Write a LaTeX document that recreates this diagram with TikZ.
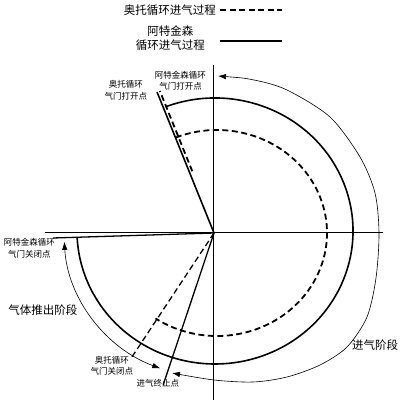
\documentclass[tikz,border=0pt]{standalone}
\usepackage{fontspec}
\usepackage{tikz}
\usetikzlibrary{positioning,calc,arrows.meta}
\newfontfamily\cjk{Noto Sans CJK SC}
\tikzset{
  axis/.style={line width=1pt},
  atkin/.style={line width=1.6pt},
  otto/.style={line width=1.8pt, dash pattern=on 6pt off 3.5pt},
  stage/.style={line width=0.6pt,
    {Latex[length=8pt,width=5.5pt]}-{Latex[length=8pt,width=5.5pt]}},
  small label/.style={font=\cjk\fontsize{8.5}{11.5}\selectfont,
    inner sep=0pt, align=center},
  big label/.style={font=\cjk\fontsize{11.5}{14}\selectfont,
    inner sep=0pt, align=center},
}

\begin{document}
\begin{tikzpicture}[x=1pt,y=1pt]
  \useasboundingbox (-214,-171) rectangle (186,233);

  % axes and valve timing lines
  \coordinate (O) at (0,0);
  \coordinate (axisTop) at (0,168);
  \coordinate (axisBottom) at (0,-167);
  \coordinate (axisLeft) at (-169,0);
  \coordinate (axisRight) at (169,0);
  \coordinate (openEnd) at (112:152);
  \coordinate (atkCloseEnd) at (-161,-5);
  \coordinate (ottoCloseEnd) at (-123.5:152);
  \coordinate (intakeEnd) at (-108.5:160);

  \draw[axis] (axisTop) -- (axisBottom);
  \draw[axis] (axisLeft) -- (axisRight);
  \draw[atkin] (O) -- (openEnd);
  \draw[otto] ([shift={(2.8,1.1)}]$(O)!0.43!(openEnd)$)
    -- ([shift={(2.8,1.1)}]openEnd);
  \draw[atkin, line width=1.3pt] (O) -- (atkCloseEnd);
  \draw[otto, line width=1.3pt] (O) -- (ottoCloseEnd);
  \draw[atkin, line width=1.3pt] (O) -- (intakeEnd);

  % intake curves
  \coordinate (atkArcStart) at ($(1,2)+(111:138 and 133)$);
  \coordinate (ottoArcStart) at ($(3,0)+(112:110 and 103)$);
  \draw[atkin] (atkArcStart)
    arc[start angle=111, end angle=-177, x radius=138, y radius=133];
  \draw[otto] (ottoArcStart)
    arc[start angle=112, end angle=-124, x radius=110, y radius=103];

  % stage arrows
  \draw[stage] plot[smooth] coordinates {(4,157) (40,153) (73,143)
    (116,116) (146,76) (161,40) (165,0) (162,-45) (153,-84) (133,-114)
    (106,-132) (73,-144) (39,-149) (0,-147) (-42,-140)};
  \coordinate (exhStart) at (-111:150 and 145);
  \draw[stage] (exhStart)
    arc[start angle=-111, end angle=-176.5, x radius=150, y radius=145];

  % legend
  \node (legOtto) [big label] at (-44,223) {奥托循环进气过程};
  \node (legAtkin) [big label] at (-43.5,195) {阿特金森\\循环进气过程};
  \coordinate (ottoSampleA) at (6,223);
  \coordinate (ottoSampleB) at (68,223);
  \coordinate (atkSampleA) at (6,192);
  \coordinate (atkSampleB) at (68,192);
  \draw[otto] (ottoSampleA) -- (ottoSampleB);
  \draw[atkin] (atkSampleA) -- (atkSampleB);

  % labels
  \node (ottoOpen) [small label] at (-88,142.5) {奥托循环\\气门打开点};
  \node (atkOpen) [small label] at (-33.5,152) {阿特金森循环\\气门打开点};
  \node (atkClose) [small label] at (-184.5,-15) {阿特金森循环\\气门关闭点};
  \node (ottoClose) [small label] at (-102,-133) {奥托循环\\气门关闭点};
  \node (intakeStop) [small label] at (-56,-150) {进气终止点};
  \node (exhaust) [big label] at (-171,-77) {气体推出阶段};
  \node (intake) [big label] at (161,-112) {进气阶段};
\end{tikzpicture}
\end{document}
